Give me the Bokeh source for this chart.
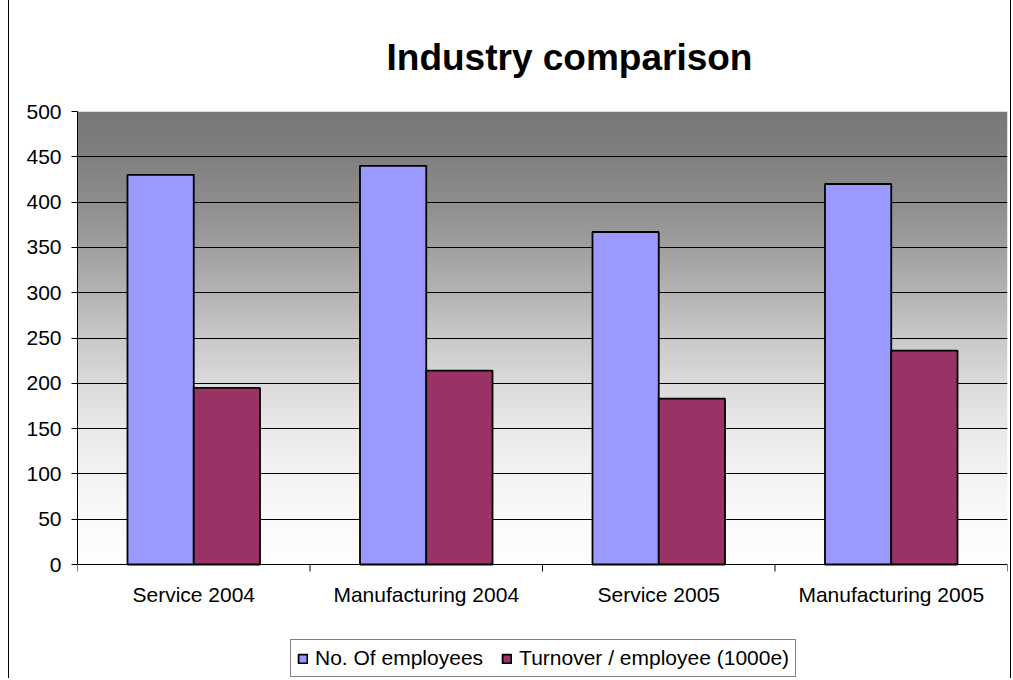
import numpy as np
from bokeh.plotting import figure
from bokeh.models import Range1d, FixedTicker, Legend, LegendItem, Title, ColumnDataSource, Span
from bokeh.core.properties import value
from bokeh.embed import file_html
from bokeh.resources import INLINE

categories = ["Service 2004", "Manufacturing 2004", "Service 2005", "Manufacturing 2005"]
employees = [430, 440, 367, 420]
turnover = [195, 214, 183, 236]
y_ticks = [0, 50, 100, 150, 200, 250, 300, 350, 400, 450, 500]

FONT = "Liberation Sans"
BAR_W = 0.285
OFF = 0.1425

# layout geometry (pixels)
FIG_H = 678
TOP = 111          # frame top
AXIS_Y = 564       # pixel row of value 0
px_per_unit = (AXIS_Y - TOP) / 500.0
y_min = -(FIG_H - AXIS_Y) / px_per_unit

idx = np.arange(len(categories)) + 0.5
src = ColumnDataSource(dict(
    xe=idx - OFF, xt=idx + OFF, emp=employees, tur=turnover, cat=categories, xc=idx,
    y0=[0] * len(categories)))

bounds = list(range(len(categories) + 1))
tick_len = 7 / px_per_unit

p = figure(width=1003, height=FIG_H, x_range=Range1d(0, len(categories)),
           y_range=Range1d(y_min, 500), output_backend="svg", toolbar_location=None,
           min_border_left=68, min_border_right=5, min_border_top=TOP,
           min_border_bottom=0, x_axis_type=None, title=None)
p.styles = {"margin-left": "8px", "border-left": "1px solid black",
            "border-right": "1px solid black"}
p.outline_line_color = None
p.background_fill_color = "white"
p.border_fill_color = "white"

# gradient background (styling)
stops_v = [0, 50, 100, 150, 200, 250, 300, 350, 400, 450, 500]
stops_g = [255, 250, 243, 233, 219, 201, 180, 160, 142, 128, 120]
vals = np.linspace(0, 500, 501)
g = np.interp(vals, stops_v, stops_g).astype(np.uint8)
img = np.zeros((501, 1), dtype=np.uint32)
view = img.view(dtype=np.uint8).reshape((501, 1, 4))
view[:, 0, 0] = g
view[:, 0, 1] = g
view[:, 0, 2] = g
view[:, 0, 3] = 255
p.image_rgba(image=[img], x=0, y=0, dw=len(categories), dh=500, level="image")

p.xgrid.grid_line_color = None
p.ygrid.ticker = FixedTicker(ticks=y_ticks[1:-1])
p.ygrid.grid_line_color = "black"
p.ygrid.grid_line_width = 1

r1 = p.vbar(x="xe", top="emp", width=BAR_W, source=src, fill_color="#9999FF",
            line_color="black", line_width=1.8)
r2 = p.vbar(x="xt", top="tur", width=BAR_W, source=src, fill_color="#993366",
            line_color="black", line_width=1.8)

# category axis drawn in data space (line at 0, ticks at category boundaries, labels)
p.add_layout(Span(location=0, dimension="width", line_color="black", line_width=1))
p.segment(x0=bounds, y0=[0] * len(bounds), x1=bounds, y1=[-tick_len] * len(bounds),
          line_color="black", line_width=1)
p.text(x="xc", y="y0", text="cat", source=src, text_align="center",
       text_baseline="top", y_offset=18, text_font=value(FONT),
       text_font_size="21px", text_color="black")

# y axis
p.yaxis.ticker = FixedTicker(ticks=y_ticks)
p.yaxis.bounds = (0, 500)
p.yaxis.major_tick_in = 0
p.yaxis.major_tick_out = 6
p.yaxis.minor_tick_line_color = None
p.yaxis.major_label_text_font = FONT
p.yaxis.major_label_text_font_size = "21px"
p.yaxis.major_label_text_color = "black"
p.yaxis.major_label_standoff = 10
p.yaxis.axis_line_color = "black"
p.yaxis.major_tick_line_color = "black"

title = Title(text="Industry comparison", align="left", offset=309,
              text_font=FONT, text_font_size="37px", text_font_style="bold",
              text_color="black", standoff=68)
p.add_layout(title, "above")

legend = Legend(items=[LegendItem(label="No. Of employees", renderers=[r1]),
                       LegendItem(label="Turnover / employee (1000e)", renderers=[r2])],
                orientation="horizontal", location=(213, 1),
                label_text_font=FONT, label_text_font_size="21px", label_text_color="black",
                glyph_width=11, glyph_height=11, label_standoff=7, spacing=18,
                padding=6, margin=0, border_line_color="black", border_line_width=1,
                background_fill_color="white", background_fill_alpha=1)
p.add_layout(legend, "center")

open("out.html", "w").write(file_html(p, INLINE))
